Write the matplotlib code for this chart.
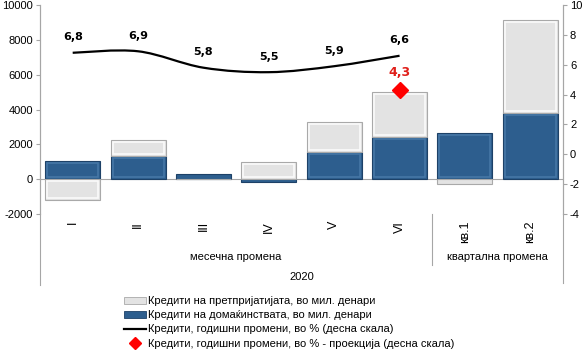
import numpy as np
import matplotlib.pyplot as plt
from matplotlib.path import Path
from matplotlib.patches import PathPatch, Patch
from matplotlib.lines import Line2D
import matplotlib.transforms as mtransforms

plt.rcParams['font.family'] = ['Liberation Sans', 'DejaVu Sans']
plt.rcParams['axes.unicode_minus'] = False

categories = ["I", "II", "III", "IV", "V", "VI", "кв.1", "кв.2"]
households = [1050, 1350, 270, -150, 1550, 2400, 2630, 3800]
enterprises = [-1200, 900, 0, 1000, 1730, 2620, -250, 5350]
annual_growth = [6.8, 6.9, 5.8, 5.5, 5.9, 6.6]
growth_labels = ["6,8", "6,9", "5,8", "5,5", "5,9", "6,6"]
projection = 4.3
projection_label = "4,3"

blue, blue_edge, blue_hi = '#2D5E8E', '#1D4167', '#4677A6'
grey, grey_edge, grey_hi = '#E3E3E3', '#A9A9A9', '#FAFAFA'
axis_grey = '#A6A6A6'

fig = plt.figure(figsize=(5.85, 3.55), dpi=100)
ax = fig.add_axes([40/585, 1-214/355, 523/585, 209/355])
ax2 = ax.twinx()

x = np.arange(len(categories))
hh = np.array(households)
en = np.array(enterprises)
# excel style stacking: same sign stacks on top, opposite sign starts at zero
en_bottom = np.where(np.sign(hh) == np.sign(en), hh, 0)

w = 0.84
ax.bar(x, hh, w, color=blue, edgecolor=blue_edge, linewidth=0.8, zorder=3)
ax.bar(x, en, w, bottom=en_bottom, color=grey, edgecolor=grey_edge, linewidth=0.8, zorder=3)

# rough bevel look: lighter inner outline on the taller bars
inset = 110
for vals, bots, hi in ((hh, np.zeros(len(hh)), blue_hi), (en, en_bottom, grey_hi)):
    big = np.abs(vals) > 3 * inset
    h_in = vals - 2 * inset * np.sign(vals)
    b_in = bots + inset * np.sign(vals)
    ax.bar(x[big], h_in[big], w - 0.06, bottom=b_in[big], facecolor='none',
           edgecolor=hi, linewidth=1.2, zorder=3.5)

ax.axhline(0, color=axis_grey, linewidth=0.8, zorder=2)

ax.set_xlim(-0.5, len(categories) - 0.5)
ax.set_ylim(-2000, 10000)
ax.set_yticks(np.arange(-2000, 10001, 2000))
ax2.set_ylim(-4, 10)
ax2.set_yticks(np.arange(-4, 11, 2))

for a in (ax, ax2):
    for s in ('top', 'bottom'):
        a.spines[s].set_visible(False)
    a.spines['left'].set_color(axis_grey)
    a.spines['right'].set_color(axis_grey)
    a.tick_params(axis='y', colors='black', labelsize=8, length=3, width=0.8, pad=2)
    a.tick_params(axis='y', color=axis_grey)

ax.set_xticks(x)
ax.set_xticklabels(categories, rotation=90, va='top', fontsize=9)
ax.tick_params(axis='x', length=0, pad=5)

# smooth line through the points (catmull-rom as bezier segments)
pts = np.column_stack([np.arange(len(annual_growth)), annual_growth]).astype(float)
verts = [pts[0]]
codes = [Path.MOVETO]
n = len(pts)
for i in range(n - 1):
    p0 = pts[max(i - 1, 0)]
    p1, p2 = pts[i], pts[i + 1]
    p3 = pts[min(i + 2, n - 1)]
    verts += [p1 + (p2 - p0) / 6, p2 - (p3 - p1) / 6, p2]
    codes += [Path.CURVE4] * 3
ax2.add_patch(PathPatch(Path(verts, codes), facecolor='none', edgecolor='black',
                        linewidth=1.6, zorder=4))

for xi, v, lab in zip(pts[:, 0], annual_growth, growth_labels):
    ax2.annotate(lab, (xi, v), xytext=(0, 11), textcoords='offset points',
                 ha='center', va='center', fontsize=8, fontweight='bold',
                 family='DejaVu Sans')

ax2.plot([5], [projection], marker='D', color='#FF0000', markersize=8,
         linestyle='none', zorder=5)
ax2.annotate(projection_label, (5, projection), xytext=(0, 12.5), textcoords='offset points',
             ha='center', va='center', fontsize=9, fontweight='bold', color='#E0201B',
             family='DejaVu Sans')

# multi-level category axis
trans = mtransforms.blended_transform_factory(ax.transData, ax.transAxes)
ax.text(2.5, -0.205, "месечна промена", transform=trans, ha='center', va='center', fontsize=8)
ax.text(6.5, -0.205, "квартална промена", transform=trans, ha='center', va='center', fontsize=8)
ax.text(3.5, -0.30, "2020", transform=trans, ha='center', va='center', fontsize=8)
ax.plot([5.5, 5.5], [0, -0.245], transform=trans, color=axis_grey, linewidth=0.8, clip_on=False)
ax.plot([-0.5, -0.5], [0, -0.34], transform=trans, color=axis_grey, linewidth=0.8, clip_on=False)
ax.plot([7.5, 7.5], [0, -0.33], transform=trans, color=axis_grey, linewidth=0.8, clip_on=False)

handles = [
    Patch(facecolor=grey, edgecolor=grey_edge, linewidth=0.6),
    Patch(facecolor=blue, edgecolor=blue_edge, linewidth=0.6),
    Line2D([], [], color='black', linewidth=1.6),
    Line2D([], [], color='#FF0000', marker='D', markersize=6, linestyle='none'),
]
labels = [
    "Кредити на претпријатијата, во мил. денари",
    "Кредити на домаќинствата, во мил. денари",
    "Кредити, годишни промени, во % (десна скала)",
    "Кредити, годишни промени, во % - проекција (десна скала)",
]
fig.legend(handles, labels, loc='upper left', bbox_to_anchor=(124/585, 1-296/355),
           frameon=False, fontsize=8, handlelength=2.0, handleheight=0.6,
           handletextpad=0.2, labelspacing=0.38, borderpad=0, borderaxespad=0)

fig.savefig('out.png', dpi=100)
